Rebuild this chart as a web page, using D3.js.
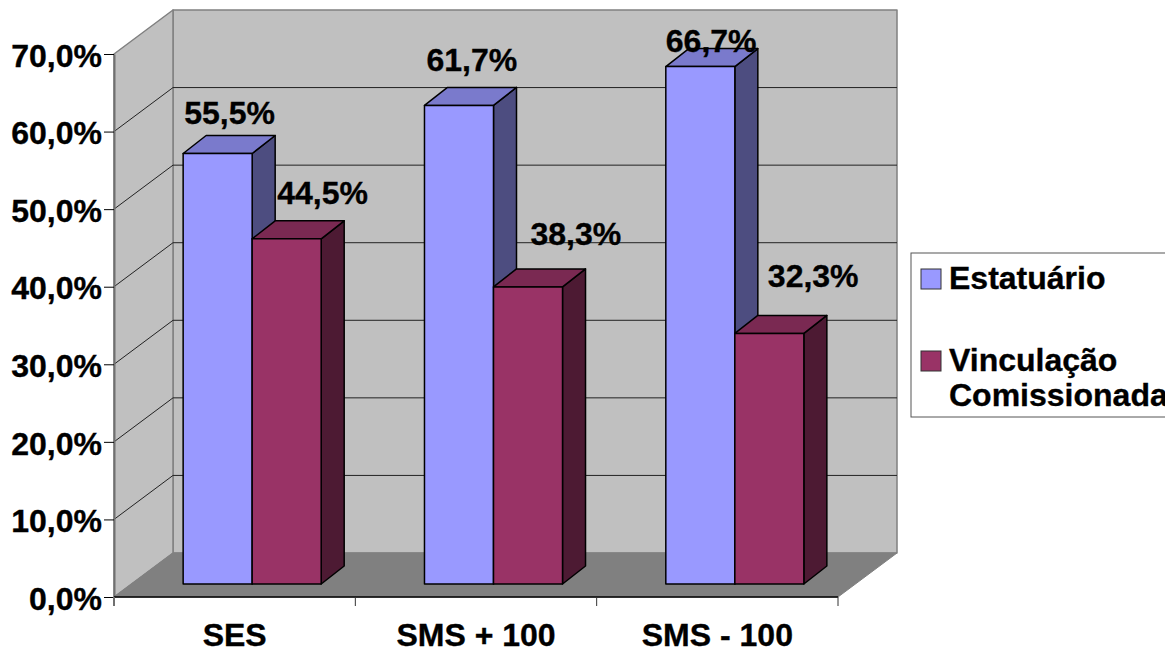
<!DOCTYPE html>
<html>
<head>
<meta charset="utf-8">
<script src="https://cdn.jsdelivr.net/npm/d3@7"></script>
<style>
  body { margin: 0; background: #fff; overflow: hidden; }
  text { font-family: "Liberation Sans", Arial, sans-serif; font-weight: bold; fill: #000; stroke: #000; stroke-width: 0.35px; }
</style>
</head>
<body>
<div class="visHolder"></div>
<script>
const categories = ['SES', 'SMS + 100', 'SMS - 100'];
const seriesNames = ['Estatuário', 'Vinculação Comissionada'];
const estatuario = [55.5, 61.7, 66.7];
const vinculacao = [44.5, 38.3, 32.3];
const yTicks = [0, 10, 20, 30, 40, 50, 60, 70];

const width = 1165;
const height = 648;
const fontSize = 32;

// front plane of the box, and how far the back wall is pushed
const plotLeft = 114, plotRight = 838, plotBottom = 597, plotTop = 54;
const wallDx = 59, wallDy = -44;
// bars stand a bit into the floor and have their own depth
const floorDx = 17.5, floorDy = -13;
const barDx = 23, barDy = -18;

const colors = [
  { front: '#9999ff', top: '#7a7acc', side: '#4d4d80' },
  { front: '#993366', top: '#7a2952', side: '#4d1a33' }
];

const fmt = v => d3.format('.1f')(v).replace('.', ',') + '%';

const svg = d3.select('.visHolder')
  .append('svg')
  .attr('width', width)
  .attr('height', height)
  .style('display', 'block');

const yScale = d3.scaleLinear().domain([0, 70]).range([plotBottom, plotTop]);
const xAxisScale = d3.scaleBand().domain(categories).range([plotLeft, plotRight]);
const xScale = d3.scaleBand()
  .domain(categories)
  .range([plotLeft + floorDx, plotRight + floorDx])
  .paddingInner(0.428)
  .paddingOuter(0.214);
const serieScale = d3.scaleBand().domain([0, 1]).range([0, xScale.bandwidth()]);

const poly = (pts, fill, stroke, sw) => svg.append('polygon')
  .attr('points', pts.map(p => p.join(',')).join(' '))
  .attr('fill', fill)
  .attr('stroke', stroke)
  .attr('stroke-width', sw)
  .attr('stroke-linejoin', 'round');

// walls and floor
poly([[plotLeft + wallDx, yScale(70) + wallDy], [plotRight + wallDx, yScale(70) + wallDy],
  [plotRight + wallDx, plotBottom + wallDy], [plotLeft + wallDx, plotBottom + wallDy]], '#c0c0c0', '#808080', 1.5);
poly([[plotLeft, yScale(70)], [plotLeft + wallDx, yScale(70) + wallDy],
  [plotLeft + wallDx, plotBottom + wallDy], [plotLeft, plotBottom]], '#c0c0c0', '#808080', 1.5);
poly([[plotLeft, plotBottom], [plotLeft + wallDx, plotBottom + wallDy],
  [plotRight + wallDx, plotBottom + wallDy], [plotRight, plotBottom]], '#808080', '#808080', 1);

// gridlines run along side wall then back wall
svg.append('g')
  .selectAll('path')
  .data(yTicks.filter(d => d > 0 && d < 70))
  .enter()
  .append('path')
  .attr('d', d => `M${plotLeft},${yScale(d)}L${plotLeft + wallDx},${yScale(d) + wallDy}H${plotRight + wallDx}`)
  .attr('fill', 'none')
  .attr('stroke', '#222')
  .attr('stroke-width', 1);

// axes
const yAxis = d3.axisLeft(yScale).tickValues(yTicks).tickFormat(fmt).tickSize(10).tickPadding(2).tickSizeOuter(0);
const xAxis = d3.axisBottom(xAxisScale).tickSize(0).tickPadding(26);

const gy = svg.append('g').attr('transform', `translate(${plotLeft},0)`).call(yAxis);
gy.select('.domain').attr('stroke', '#707070').attr('stroke-width', 2);
gy.selectAll('text').style('font-size', fontSize + 'px').attr('dy', '0.38em');

const gx = svg.append('g').attr('transform', `translate(0,${plotBottom})`).call(xAxis);
gx.select('.domain').remove();
gx.selectAll('text').style('font-size', fontSize + 'px');

svg.append('path')
  .attr('d', `M${plotLeft},${plotBottom}H${plotRight}`)
  .attr('stroke', '#000')
  .attr('stroke-width', 1.5);
svg.append('g')
  .selectAll('line')
  .data(d3.range(0, 4))
  .enter()
  .append('line')
  .attr('x1', d => plotLeft + d * xAxisScale.step())
  .attr('x2', d => plotLeft + d * xAxisScale.step())
  .attr('y1', plotBottom)
  .attr('y2', plotBottom + 9)
  .attr('stroke', d => d === 0 ? '#707070' : '#333')
  .attr('stroke-width', d => d === 0 ? 2 : 1);

// bars
const barY = v => yScale(v) + floorDy;
const series = [estatuario, vinculacao];
const drawBar = (cat, s, v) => {
  const x0 = xScale(cat) + serieScale(s);
  const x1 = x0 + serieScale.bandwidth();
  const y0 = barY(v);
  const y1 = barY(0);
  const c = colors[s];
  poly([[x1, y0], [x1 + barDx, y0 + barDy], [x1 + barDx, y1 + barDy], [x1, y1]], c.side, '#000', 1.5);
  poly([[x0, y0], [x0 + barDx, y0 + barDy], [x1 + barDx, y0 + barDy], [x1, y0]], c.top, '#000', 1.5);
  poly([[x0, y0], [x1, y0], [x1, y1], [x0, y1]], c.front, '#000', 1.5);
};
categories.forEach((cat, i) => {
  series.forEach((vals, s) => drawBar(cat, s, vals[i]));
});

// data labels were hand placed in the original, so each has its own nudge
const labelNudge = [
  [[1, -29], [25, -35]],
  [[2, -34], [37, -42]],
  [[0, -15], [33, -46]]
];
categories.forEach((cat, i) => {
  series.forEach((vals, s) => {
    svg.append('text')
      .attr('x', xScale(cat) + serieScale(s) + labelNudge[i][s][0])
      .attr('y', barY(vals[i]) + labelNudge[i][s][1])
      .style('font-size', fontSize + 'px')
      .text(fmt(vals[i]));
  });
});

// legend
svg.append('rect')
  .attr('x', 911).attr('y', 253)
  .attr('width', 270).attr('height', 164)
  .attr('fill', '#fff')
  .attr('stroke', '#555')
  .attr('stroke-width', 1);

const legendY = [269, 351];
seriesNames.forEach((name, s) => {
  svg.append('rect')
    .attr('x', 921).attr('y', legendY[s])
    .attr('width', 20).attr('height', 20)
    .attr('fill', colors[s].front)
    .attr('stroke', '#333')
    .attr('stroke-width', 1);
  const lines = name.split(' ');
  lines.forEach((line, k) => {
    svg.append('text')
      .attr('x', 949)
      .attr('y', legendY[s] + 20 + k * 35)
      .style('font-size', fontSize + 'px')
      .text(line);
  });
});
</script>
</body>
</html>
